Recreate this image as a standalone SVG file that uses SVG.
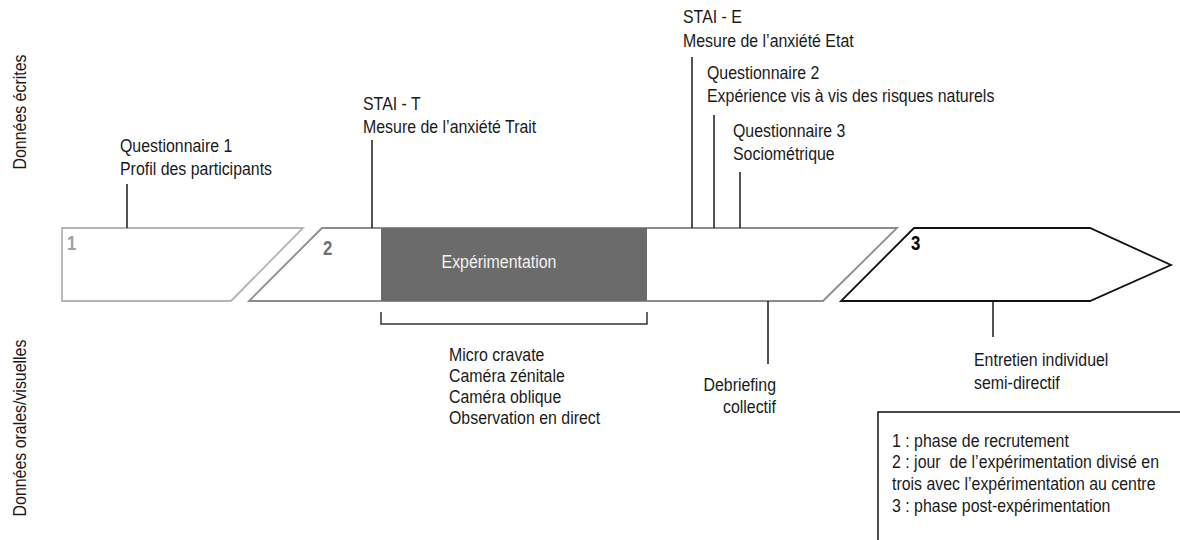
<svg xmlns="http://www.w3.org/2000/svg" width="1180" height="540" viewBox="0 0 1180 540">
<style>
text{font-family:"Liberation Sans",Arial,sans-serif;font-size:18.5px;fill:#1a1a1a}
.num{font-weight:bold;font-size:19.5px}
.stem{stroke:#1a1a1a;stroke-width:1.5;fill:none}
</style>
<rect width="1180" height="540" fill="#fff"/>
<g id="axis-labels">
<text transform="translate(26,112) rotate(-90) scale(0.86,1)" text-anchor="middle">Données écrites</text>
<text transform="translate(26,428) rotate(-90) scale(0.86,1)" text-anchor="middle">Données orales/visuelles</text>
</g>
<g id="phase1">
<polygon points="62,228 303,228 231,301 62,301" fill="#fff" stroke="#b4b4b4" stroke-width="1.8"/>
<text class="num" transform="translate(67,250) scale(0.86,1)" style="fill:#a0a0a0">1</text>
</g>
<g id="phase2">
<polygon points="322,228 897,228 823,301 249,301" fill="#fff" stroke="#8c8c8c" stroke-width="1.8"/>
<text class="num" transform="translate(323,255) scale(0.86,1)" style="fill:#707070">2</text>
</g>
<g id="experimentation">
<rect x="381" y="228" width="266" height="73" fill="#6b6b6b"/>
<text transform="translate(499,268) scale(0.86,1)" text-anchor="middle" style="fill:#f2f2f2">Expérimentation</text>
</g>
<g id="phase3">
<polygon points="914,228 1090,228 1171,265 1090,301 841,301" fill="#fff" stroke="#111" stroke-width="1.8"/>
<text class="num" transform="translate(911,250) scale(0.86,1)" style="fill:#000">3</text>
</g>
<g id="connectors">
<line class="stem" x1="127" y1="184" x2="127" y2="228"/>
<line class="stem" x1="372" y1="140" x2="372" y2="228"/>
<line class="stem" x1="692" y1="57" x2="692" y2="228"/>
<line class="stem" x1="714" y1="115" x2="714" y2="228"/>
<line class="stem" x1="740" y1="172" x2="740" y2="228"/>
<line class="stem" x1="768" y1="301" x2="768" y2="364"/>
<line class="stem" x1="993" y1="301" x2="993" y2="337"/>
<polyline class="stem" points="381,312 381,324 647,324 647,312" style="stroke:#333"/>
</g>
<g id="q1">
<text transform="translate(120,152) scale(0.86,1)">Questionnaire 1</text>
<text transform="translate(120,175) scale(0.86,1)">Profil des participants</text>
</g>
<g id="stai-t">
<text transform="translate(363,110) scale(0.86,1)">STAI - T</text>
<text transform="translate(363,133) scale(0.86,1)">Mesure de l’anxiété Trait</text>
</g>
<g id="stai-e">
<text transform="translate(683,23) scale(0.86,1)">STAI - E</text>
<text transform="translate(683,47) scale(0.86,1)">Mesure de l’anxiété Etat</text>
</g>
<g id="q2">
<text transform="translate(707,79) scale(0.86,1)">Questionnaire 2</text>
<text transform="translate(707,102) scale(0.86,1)">Expérience vis à vis des risques naturels</text>
</g>
<g id="q3">
<text transform="translate(733,137) scale(0.86,1)">Questionnaire 3</text>
<text transform="translate(733,160) scale(0.86,1)">Sociométrique</text>
</g>
<g id="devices">
<text transform="translate(449,361) scale(0.86,1)">Micro cravate</text>
<text transform="translate(449,382) scale(0.86,1)">Caméra zénitale</text>
<text transform="translate(449,403) scale(0.86,1)">Caméra oblique</text>
<text transform="translate(449,424) scale(0.86,1)">Observation en direct</text>
</g>
<g id="debriefing">
<text transform="translate(776,391) scale(0.86,1)" text-anchor="end">Debriefing</text>
<text transform="translate(776,413) scale(0.86,1)" text-anchor="end">collectif</text>
</g>
<g id="entretien">
<text transform="translate(974,366) scale(0.86,1)">Entretien individuel</text>
<text transform="translate(974,389) scale(0.86,1)">semi-directif</text>
</g>
<g id="legend">
<rect x="878" y="412" width="330" height="150" fill="#fff" stroke="#111" stroke-width="1.5"/>
<text transform="translate(892,447) scale(0.86,1)">1 : phase de recrutement</text>
<text transform="translate(892,468) scale(0.86,1)" xml:space="preserve">2 : jour  de l’expérimentation divisé en</text>
<text transform="translate(892,490) scale(0.86,1)">trois avec l’expérimentation au centre</text>
<text transform="translate(892,512) scale(0.86,1)">3 : phase post-expérimentation</text>
</g>
</svg>
